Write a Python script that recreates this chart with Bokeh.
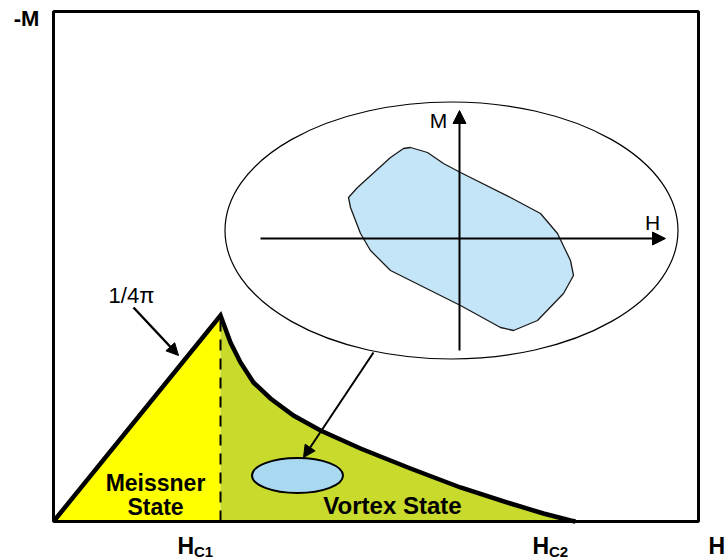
from bokeh.plotting import figure
from bokeh.models import Label, Arrow, NormalHead, Range1d
from bokeh.embed import file_html
from bokeh.resources import INLINE

# ---- data (H horizontal, -M vertical; arbitrary units) ----
h_max = 6.45
m_max = 5.10
hc1 = 1.67
hc2 = 5.22
peak_m = 2.06  # 1/4pi slope meets Hc1

curve_h = [1.67, 1.77, 1.87, 2.00, 2.17, 2.40, 2.67, 3.07, 3.57, 4.07, 4.57, 4.90, 5.17, 5.22]
curve_m = [2.06, 1.79, 1.59, 1.39, 1.23, 1.06, 0.91, 0.73, 0.53, 0.34, 0.18, 0.08, 0.01, 0.00]

# inset ellipse (magnified view) and small ellipse in vortex region
inset_cx, inset_cy, inset_w, inset_h = 3.98, 2.91, 4.53, 2.57
small_cx, small_cy, small_w, small_h = 2.44, 0.46, 0.91, 0.35

# hysteresis loop in the inset
loop_h = [3.57, 3.74, 3.90, 4.07, 4.57, 4.87, 5.04, 5.17, 5.20, 5.10, 4.84, 4.60,
          4.47, 4.07, 3.37, 3.17, 3.07, 2.97, 2.95, 3.04, 3.37, 3.50]
loop_m = [3.74, 3.69, 3.58, 3.49, 3.24, 3.08, 2.88, 2.61, 2.46, 2.28, 2.01, 1.91,
          1.94, 2.16, 2.51, 2.71, 2.88, 3.14, 3.24, 3.34, 3.64, 3.73]

# inset axes
inset_h_axis = (2.07, 6.12, 2.83)   # x0, x1, y
inset_m_axis = (4.06, 1.71, 4.11)   # x, y0, y1

FONT = "Liberation Sans"
YELLOW = "#ffff00"
GREEN = "#c8da2c"
BLUE_LOOP = "#c4e4f7"
BLUE_SMALL = "#a9d8f1"

p = figure(width=727, height=559, output_backend="svg", toolbar_location=None,
           x_range=Range1d(-0.53, 6.74), y_range=Range1d(-0.38, 5.21),
           x_axis_location=None, y_axis_location=None,
           min_border_left=0, min_border_right=0, min_border_top=0, min_border_bottom=0)
p.grid.visible = False
p.outline_line_color = None
p.background_fill_color = "white"
p.border_fill_color = "white"

# Meissner region
p.patch([0, hc1, hc1], [0, peak_m, 0], fill_color=YELLOW, line_color=None)
# Vortex region
p.patch(curve_h + [hc1], curve_m + [0], fill_color=GREEN, line_color=None)
# dashed line at Hc1
p.line([hc1, hc1], [0, peak_m], line_color="black", line_width=2, line_dash="11 8")
# magnetization curve
p.line([0] + curve_h, [0] + curve_m, line_color="black", line_width=4.5, line_join="miter")

# chart box
p.quad(left=[0], right=[h_max], bottom=[0], top=[m_max], fill_color=None,
       line_color="black", line_width=3)

# small ellipse
p.ellipse(x=[small_cx], y=[small_cy], width=[small_w], height=[small_h],
          fill_color=BLUE_SMALL, line_color="black", line_width=2)

# inset ellipse
p.ellipse(x=[inset_cx], y=[inset_cy], width=[inset_w], height=[inset_h],
          fill_color="white", line_color="black", line_width=1.2)
# loop
p.patch(loop_h, loop_m, fill_color=BLUE_LOOP, line_color="#1a1a1a", line_width=1.3,
        line_join="round")

# inset axes with arrows
p.add_layout(Arrow(x_start=inset_h_axis[0], y_start=inset_h_axis[2],
                   x_end=inset_h_axis[1], y_end=inset_h_axis[2],
                   line_color="black", line_width=2,
                   end=NormalHead(size=13, fill_color="black", line_color="black")))
p.add_layout(Arrow(x_start=inset_m_axis[0], y_start=inset_m_axis[1],
                   x_end=inset_m_axis[0], y_end=inset_m_axis[2],
                   line_color="black", line_width=2,
                   end=NormalHead(size=13, fill_color="black", line_color="black")))
p.add_layout(Label(x=3.85, y=4.01, text="M", text_font=FONT, text_font_size="21px",
                   text_color="black", text_align="center", text_baseline="middle"))
p.add_layout(Label(x=5.99, y=2.99, text="H", text_font=FONT, text_font_size="21px",
                   text_color="black", text_align="center", text_baseline="middle"))

# arrow from inset to small ellipse
p.add_layout(Arrow(x_start=3.20, y_start=1.69, x_end=2.50, y_end=0.64,
                   line_color="black", line_width=2,
                   end=NormalHead(size=12, fill_color="black", line_color="black")))
# 1/4pi arrow
p.add_layout(Arrow(x_start=0.80, y_start=2.14, x_end=1.25, y_end=1.66,
                   line_color="black", line_width=2.5,
                   end=NormalHead(size=12, fill_color="black", line_color="black")))
p.add_layout(Label(x=0.78, y=2.26, text="1/4\u03c0", text_font=FONT, text_font_size="22px",
                   text_color="black", text_align="center", text_baseline="middle"))

# region labels
p.add_layout(Label(x=1.02, y=0.39, text="Meissner", text_font=FONT, text_font_size="23px",
                   text_color="black", text_font_style="bold", text_align="center",
                   text_baseline="middle"))
p.add_layout(Label(x=1.02, y=0.145, text="State", text_font=FONT, text_font_size="23px",
                   text_color="black", text_font_style="bold", text_align="center",
                   text_baseline="middle"))
p.add_layout(Label(x=3.39, y=0.16, text="Vortex State", text_font=FONT, text_font_size="24px",
                   text_color="black", text_font_style="bold", text_align="center",
                   text_baseline="middle"))

# axis labels
p.add_layout(Label(x=-0.27, y=5.035, text="-M", text_font=FONT, text_font_size="22px",
                   text_color="black", text_font_style="bold", text_align="center",
                   text_baseline="middle"))
p.add_layout(Label(x=6.55, y=-0.24, text="H", text_font=FONT, text_font_size="23px",
                   text_color="black", text_font_style="bold", text_align="left",
                   text_baseline="alphabetic"))
for hx, sub in [(hc1, "C1"), (hc2, "C2")]:
    p.add_layout(Label(x=hx - 0.43, y=-0.24, text="H", text_font=FONT, text_font_size="23px",
                       text_color="black", text_font_style="bold", text_align="left",
                       text_baseline="alphabetic"))
    p.add_layout(Label(x=hx - 0.265, y=-0.295, text=sub, text_font=FONT, text_font_size="15px",
                       text_color="black", text_font_style="bold", text_align="left",
                       text_baseline="alphabetic"))

open("out.html", "w").write(file_html(p, INLINE))
